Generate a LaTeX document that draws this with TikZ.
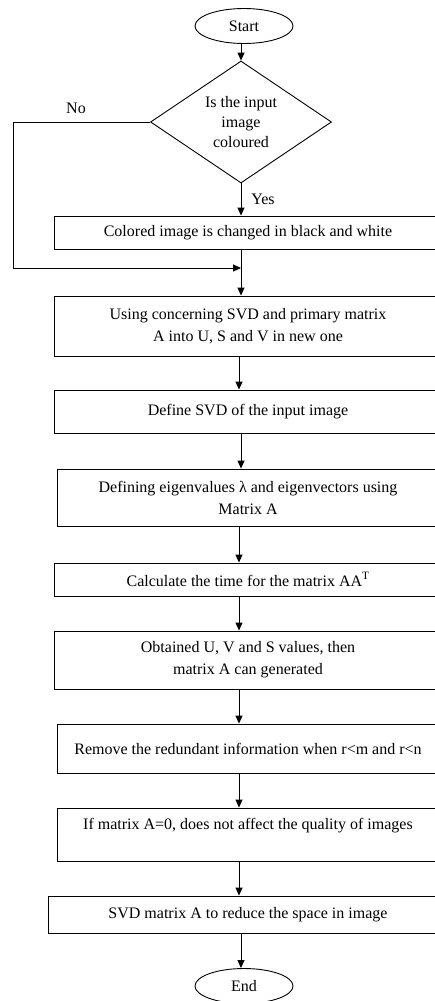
\documentclass[tikz,border=0pt]{standalone}
\usepackage{fontspec}
\setmainfont{Liberation Serif}
\usetikzlibrary{shapes.geometric,arrows.meta}
\begin{document}
\begin{tikzpicture}[x=1pt,y=-1pt,
  every node/.style={font=\fontsize{16}{22}\selectfont, inner sep=0pt},
  line/.style={line width=0.9pt},
  arr/.style={line width=0.9pt,-{Triangle[length=8pt,width=7pt]}},
  term/.style={draw, line width=0.9pt, ellipse, minimum width=98pt, minimum height=35pt},
  decis/.style={draw, line width=0.9pt, diamond, aspect=1.48, minimum width=181pt, minimum height=122pt, align=center, font=\fontsize{16}{20}\selectfont},
  proc/.style={draw, line width=0.9pt, rectangle, minimum width=388pt, align=center},
  lbl/.style={font=\fontsize{16}{20}\selectfont}]
\useasboundingbox (0,0) rectangle (435,1001);
\node[term] (start) at (244,26) {Start};
\node[decis] (dec) at (241,122) {Is the input\\image\\coloured};
\node[proc, minimum height=33pt] (b1) at (248,232.5) {Colored image is changed in black and white};
\node[proc, minimum height=60pt] (b2) at (248,326) {Using concerning SVD and primary matrix\\A into U, S and V in new one};
\node[proc, minimum height=43pt] (b3) at (248,411.5) {Define SVD of the input image};
\node[proc, minimum height=57pt, minimum width=382pt] (b4) at (248,497.5) {Defining eigenvalues λ and eigenvectors using\\Matrix A};
\node[proc, minimum height=33pt] (b5) at (248,579.5) {Calculate the time for the matrix AA\textsuperscript{T}};
\node[proc, minimum height=58pt] (b6) at (248,660) {Obtained U, V and S values, then\\matrix A can generated};
\node[proc, minimum height=49pt, minimum width=382pt] (b7) at (248,748.5) {Remove the redundant information when r<m and r<n};
\node[proc, minimum height=53pt, minimum width=382pt] (b8) at (248,834.5) {If matrix A=0, does not affect the quality of images\\\mbox{}};
\node[proc, minimum height=37pt, minimum width=400pt] (b9) at (248,914.5) {SVD matrix A to reduce the space in image};
\node[term] (end) at (244,986) {End};
\node[lbl] (no) at (76,108) {No};
\node[lbl] (yes) at (263,199) {Yes};
\coordinate (nl) at (13,268);
\draw[arr] (start.south -| dec.north) -- (dec.north);
\draw[arr] (dec.south) -- (b1.north -| dec.south);
\draw[line] (dec.west) -| (nl);
\draw[arr] (nl) -- (nl -| dec.south);
\draw[arr] (b1.south -| dec.south) -- (b2.north -| dec.south);
\draw[arr] ([xshift=-2pt]b2.south -| dec.south) -- ([xshift=-2pt]b3.north -| dec.south);
\draw[arr] (b3.south -| dec.south) -- (b4.north -| dec.south);
\draw[arr] ([xshift=-2pt]b4.south -| dec.south) -- ([xshift=-2pt]b5.north -| dec.south);
\draw[arr] ([xshift=-2pt]b5.south -| dec.south) -- ([xshift=-2pt]b6.north -| dec.south);
\draw[arr] ([xshift=-2pt]b6.south -| dec.south) -- ([xshift=-2pt]b7.north -| dec.south);
\draw[arr] ([xshift=-2pt]b7.south -| dec.south) -- ([xshift=-2pt]b8.north -| dec.south);
\draw[arr] ([xshift=-2pt]b8.south -| dec.south) -- ([xshift=-2pt]b9.north -| dec.south);
\draw[arr] (b9.south -| dec.south) -- (end.north -| dec.south);
\end{tikzpicture}
\end{document}
